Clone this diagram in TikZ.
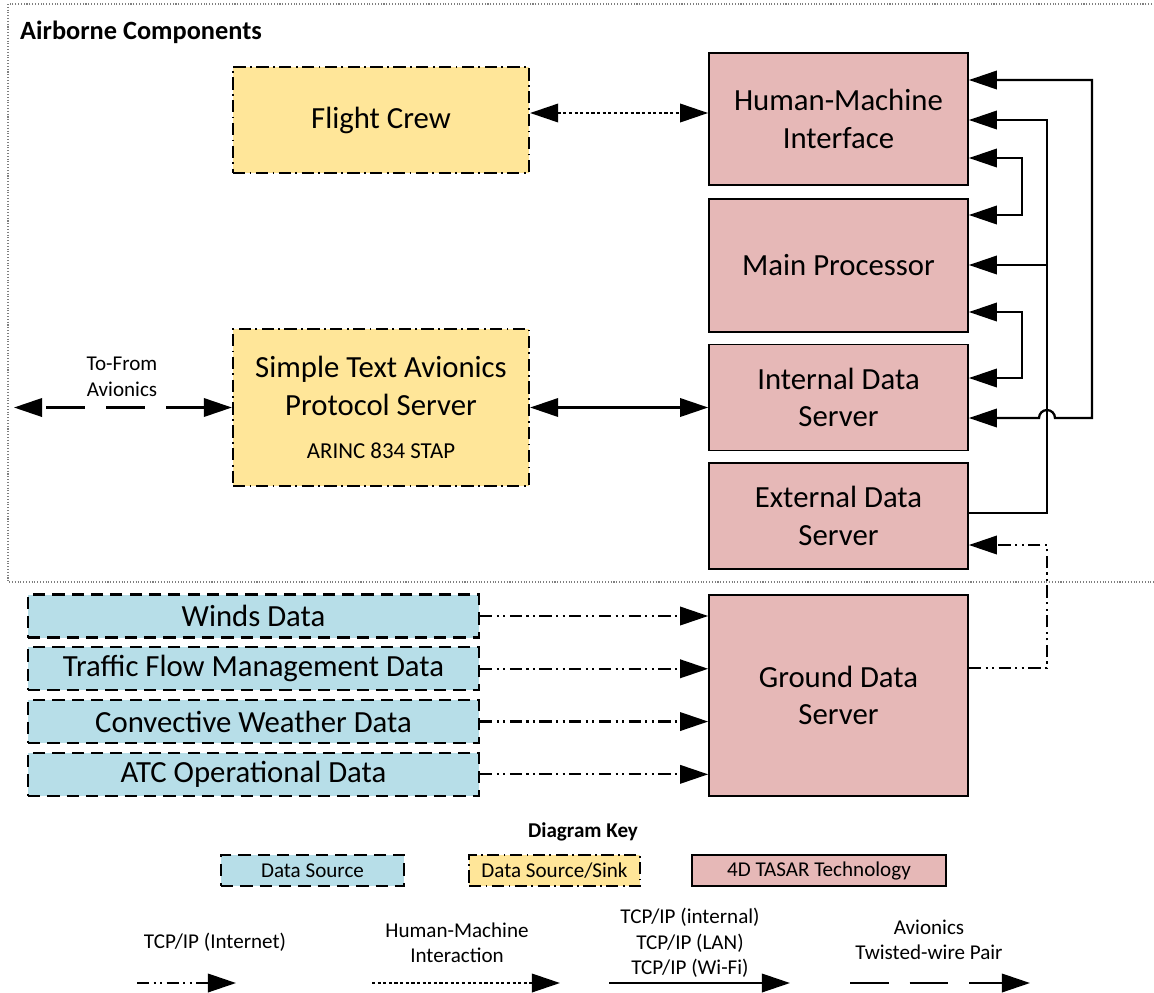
\documentclass[tikz,border=0pt]{standalone}
\usepackage{fontspec}
\setmainfont{Carlito}
\usepackage{xcolor}
\definecolor{srcblue}{HTML}{B7DEE8}
\definecolor{sinkyellow}{HTML}{FFE699}
\definecolor{tasarpink}{HTML}{E6B8B7}
\definecolor{framegray}{HTML}{7F7F7F}
\usetikzlibrary{arrows.meta,positioning}

\begin{document}
\begin{tikzpicture}[
  x=0.02cm, y=-0.02cm,
  >={Triangle[length=16pt, width=10.5pt]},
  box/.style={draw=black, line width=1pt, align=center, inner sep=2pt,
              font=\fontsize{17.5}{21.5}\selectfont},
  tasar/.style={box, fill=tasarpink, minimum width=5.18cm},
  source/.style={box, fill=srcblue, line width=1.3pt,
                 dash pattern=on 7pt off 4pt,
                 minimum width=9.02cm, minimum height=0.86cm},
  sink/.style={box, fill=sinkyellow, line width=1.3pt,
               dash pattern=on 7pt off 2.5pt on 1pt off 2.5pt,
               minimum width=5.92cm},
  keytext/.style={font=\fontsize{12}{14.5}\selectfont, align=center},
  wire/.style={line width=1.3pt},
  inet/.style={line width=1.3pt,
               dash pattern=on 7pt off 2.5pt on 1.2pt off 2.5pt on 1.2pt off 2.5pt},
  hmix/.style={line width=1.3pt, dash pattern=on 1.8pt off 1.4pt},
  avio/.style={line width=1.3pt, dash pattern=on 22pt off 12pt}
]
  \useasboundingbox (0,0) rectangle (1154,992);

  % airborne side
  \draw[framegray, densely dotted, line width=0.6pt] (8,4) rectangle (1170,582);
  \node[anchor=west, font=\bfseries\fontsize{15}{18}\selectfont] (title) at (14,32)
    {Airborne Components};

  % 4D TASAR column
  \node[tasar, minimum height=2.64cm] (hmi) at (838.5,119) {Human-Machine\\Interface};
  \node[tasar, minimum height=2.66cm, below=0.24cm of hmi] (mp) {Main Processor};
  \node[tasar, minimum height=2.12cm, below=0.22cm of mp] (ids) {Internal Data\\Server};
  \node[tasar, minimum height=2.12cm, below=0.22cm of ids] (eds) {External Data\\Server};
  \node[tasar, minimum height=4.02cm, below=0.48cm of eds] (gds) {Ground Data\\Server};

  % sources and sinks
  \node[sink, minimum height=2.12cm] (crew) at (381,120) {Flight Crew};
  \node[sink, minimum height=3.14cm] (stap) at (381,407.5)
    {Simple Text Avionics\\Protocol Server\\[3pt]{\fontsize{13}{16}\selectfont ARINC 834 STAP}};
  \node[source] (winds) at (253.5,616) {Winds Data};
  \node[source, below=0.15cm of winds] (tfm) {Traffic Flow Management Data};
  \node[source, below=0.15cm of tfm] (conv) {Convective Weather Data};
  \node[source, below=0.15cm of conv] (atc) {ATC Operational Data};

  \coordinate (avx) at (14,407.5);
  \node[keytext] (avlbl) at (122,377) {To-From\\Avionics};

  \draw[hmix, <->] ([yshift=0.14cm]crew.east) -- ([yshift=0.14cm]crew.east -| hmi.west);
  \draw[wire, <->] (stap.east) -- (stap.east -| ids.west);
  \draw[avio, <->] (stap.west) -- (avx);
  \foreach \src in {winds,tfm,conv,atc}
    \draw[inet, ->] (\src.east) -- (\src.east -| gds.west);

  % bus on the right
  \coordinate (tap) at (1047,265);
  \draw[wire, <->] (hmi.east |- 0,80) -- (1092,80) -- (1092,418) -- (1055,418)
    arc[start angle=0, end angle=180, radius=0.16cm] -- (ids.east |- 0,418);
  \draw[wire, ->] (eds.east |- 0,513) -- (1047,513) -- (1047,120) -- (hmi.east |- 0,120);
  \draw[wire, ->] (tap) -- (mp.east |- tap);
  \draw[wire, <->] (hmi.east |- 0,158) -- (1022,158) -- (1022,215) -- (mp.east |- 0,215);
  \draw[wire, <->] (mp.east |- 0,312) -- (1022,312) -- (1022,378) -- (ids.east |- 0,378);
  \draw[inet, ->] (gds.east |- 0,668) -- (1047,668) -- (1047,545) -- (eds.east |- 0,545);

  % diagram key
  \node[font=\bfseries\fontsize{12}{14}\selectfont] (keyttl) at (583,832) {Diagram Key};
  \node[source, font=\fontsize{12}{14}\selectfont, minimum width=3.66cm,
        minimum height=0.62cm] (ksrc) at (312.5,870.5) {Data Source};
  \node[sink, font=\fontsize{12}{14}\selectfont, minimum width=3.42cm,
        minimum height=0.62cm] (ksink) at (554.5,870.5) {Data Source/Sink};
  \node[tasar, font=\fontsize{12}{14}\selectfont, minimum width=5.08cm,
        minimum height=0.62cm] (ktasar) at (819,870.5) {4D TASAR Technology};

  \node[keytext] (kinet) at (215,942) {TCP/IP (Internet)};
  \node[keytext] (khmi) at (457,943) {Human-Machine\\Interaction};
  \node[keytext] (kwire) at (690,943) {TCP/IP (internal)\\TCP/IP (LAN)\\TCP/IP (Wi-Fi)};
  \node[keytext] (kavio) at (929,940) {Avionics\\Twisted-wire Pair};

  \coordinate (k1a) at (137,983); \coordinate (k1b) at (236,983);
  \coordinate (k2a) at (372,983); \coordinate (k2b) at (560,983);
  \coordinate (k3a) at (609,983); \coordinate (k3b) at (790,983);
  \coordinate (k4a) at (850,983); \coordinate (k4b) at (1030,983);
  \draw[inet, ->] (k1a) -- (k1b);
  \draw[hmix, ->] (k2a) -- (k2b);
  \draw[wire, ->] (k3a) -- (k3b);
  \draw[avio, ->] (k4a) -- (k4b);
\end{tikzpicture}
\end{document}
